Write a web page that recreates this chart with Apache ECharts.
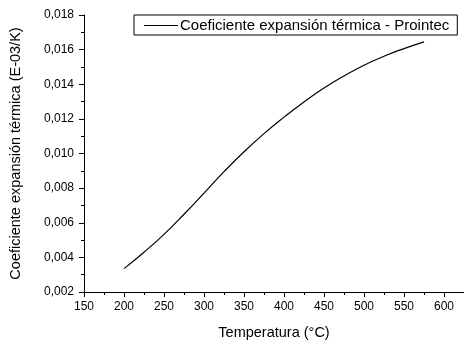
<!DOCTYPE html>
<html>
<head>
<meta charset="utf-8">
<script src="https://cdn.jsdelivr.net/npm/echarts@6/dist/echarts.min.js"></script>
<style>
    html, body { margin: 0; padding: 0; background: #fff; }
    #chart { width: 464px; height: 345px; }
</style>
</head>
<body>
<div id="chart"></div>
<script>
// datos
let temperatura = [200, 225, 250, 275, 300, 325, 350, 375, 400, 425, 450, 475, 500, 525, 550, 575];
let coeficiente = [0.00335, 0.00430, 0.00533, 0.00649, 0.00771, 0.00895, 0.01010, 0.01115, 0.01210, 0.01298, 0.01378, 0.01448, 0.01510, 0.01562, 0.01606, 0.01645];
let serieNombre = 'Coeficiente expansión térmica - Prointec';

let font = '"Liberation Sans", Arial, sans-serif';

function puntos() {
    return temperatura.map((t, i) => [t, coeficiente[i]]);
}

let myChart = echarts.init(document.getElementById('chart'));
let option = {
    animation: false,
    backgroundColor: '#fff',
    grid: {
        left: 83,
        right: 0,
        top: 15,
        bottom: 51
    },
    legend: {
        left: 134,
        top: 15,
        padding: [3, 8, 2, 10],
        itemWidth: 34,
        itemHeight: 1,
        borderColor: '#000',
        borderWidth: 1,
        borderRadius: 0,
        itemStyle: { color: '#000' },
        textStyle: {
            color: '#000',
            fontFamily: font,
            fontSize: 15,
            padding: [0, 0, 0, -3]
        },
        data: [{ name: serieNombre, icon: 'rect' }]
    },
    xAxis: {
        type: 'value',
        min: 150,
        max: 625,
        interval: 50,
        name: 'Temperatura (°C)',
        nameLocation: 'middle',
        nameGap: 33,
        nameTextStyle: {
            color: '#000',
            fontFamily: font,
            fontSize: 14.5
        },
        axisLine: { lineStyle: { color: '#000', width: 1 } },
        axisTick: { length: 5, lineStyle: { color: '#000' } },
        minorTick: { show: true, splitNumber: 2, length: 3, lineStyle: { color: '#000' } },
        splitLine: { show: false },
        axisLabel: {
            color: '#000',
            fontFamily: font,
            fontSize: 12,
            margin: 9,
            showMaxLabel: false
        }
    },
    yAxis: {
        type: 'value',
        min: 0.002,
        max: 0.018,
        interval: 0.002,
        name: 'Coeficiente expansión térmica (E-03/K)',
        nameLocation: 'middle',
        nameGap: 61,
        nameTextStyle: {
            color: '#000',
            fontFamily: font,
            fontSize: 14.5
        },
        axisLine: { show: true, lineStyle: { color: '#000', width: 1 } },
        axisTick: { show: true, length: 5, lineStyle: { color: '#000' } },
        minorTick: { show: true, splitNumber: 2, length: 3, lineStyle: { color: '#000' } },
        splitLine: { show: false },
        axisLabel: {
            color: '#000',
            fontFamily: font,
            fontSize: 12,
            margin: 10,
            formatter: v => v.toFixed(3).replace('.', ',')
        }
    },
    series: [{
        name: serieNombre,
        type: 'line',
        data: puntos(),
        smooth: true,
        symbol: 'none',
        lineStyle: { color: '#000', width: 1.2 },
        itemStyle: { color: '#000' }
    }]
};
myChart.setOption(option);
</script>
</body>
</html>
